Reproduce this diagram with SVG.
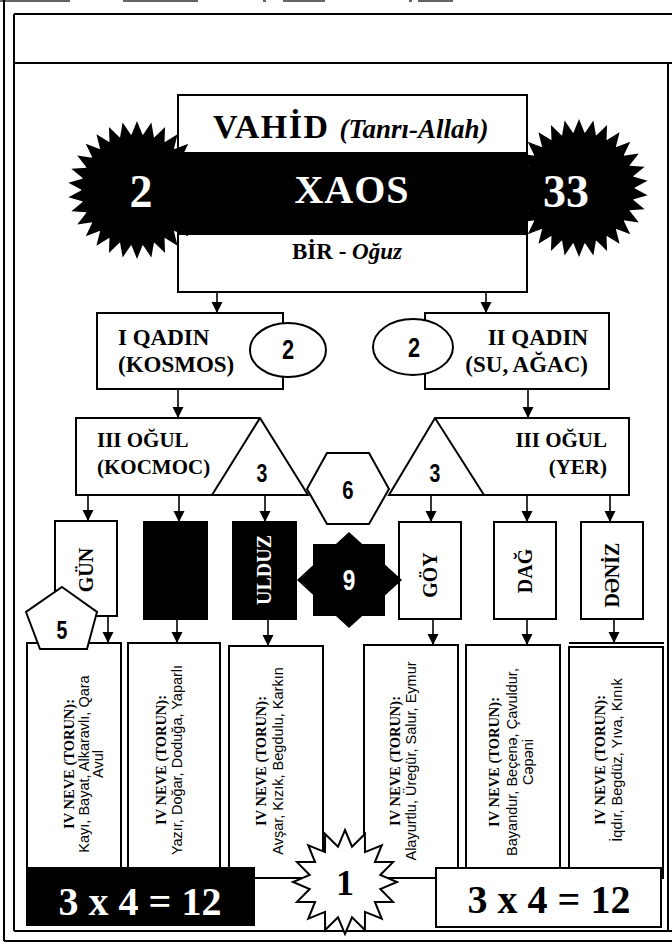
<svg xmlns="http://www.w3.org/2000/svg" width="672" height="944" viewBox="0 0 672 944">
<style>
.s{font-family:'Liberation Serif','Times New Roman',serif;font-weight:bold}
.w{fill:#fff}
.bx{fill:#fff;stroke:#000;stroke-width:2}
.bk{fill:#000;stroke:#000;stroke-width:2}
.fr{stroke:#000;stroke-width:2;fill:none}
.frag{stroke:#666;stroke-width:2;fill:none}
.n{font-family:'Liberation Sans',Arial,sans-serif;font-weight:bold;text-anchor:middle}
.tb{font-family:'Liberation Serif','Times New Roman',serif;font-weight:bold;font-size:14.5px;text-anchor:middle}
.tr{font-family:'Liberation Sans',Arial,sans-serif;font-size:14.5px;text-anchor:middle}
.rt{font-size:20px;text-anchor:middle}
.ar{stroke:#000;stroke-width:1.6;fill:none;marker-end:url(#ah)}
</style>
<defs>
<marker id="ah" markerUnits="userSpaceOnUse" markerWidth="12" markerHeight="12" refX="11" refY="5.5" orient="auto">
<path d="M0,0 L11,5.5 L0,11 Z" fill="#000"/>
</marker>
<path id="spk" d="M-5.75,-54.7 L0,-69 L5.75,-54.7 Z"/>
<g id="burst">
<circle r="55.5"/>
<use href="#spk"/><use href="#spk" transform="rotate(12)"/><use href="#spk" transform="rotate(24)"/><use href="#spk" transform="rotate(36)"/><use href="#spk" transform="rotate(48)"/><use href="#spk" transform="rotate(60)"/><use href="#spk" transform="rotate(72)"/><use href="#spk" transform="rotate(84)"/><use href="#spk" transform="rotate(96)"/><use href="#spk" transform="rotate(108)"/><use href="#spk" transform="rotate(120)"/><use href="#spk" transform="rotate(132)"/><use href="#spk" transform="rotate(144)"/><use href="#spk" transform="rotate(156)"/><use href="#spk" transform="rotate(168)"/><use href="#spk" transform="rotate(180)"/><use href="#spk" transform="rotate(192)"/><use href="#spk" transform="rotate(204)"/><use href="#spk" transform="rotate(216)"/><use href="#spk" transform="rotate(228)"/><use href="#spk" transform="rotate(240)"/><use href="#spk" transform="rotate(252)"/><use href="#spk" transform="rotate(264)"/><use href="#spk" transform="rotate(276)"/><use href="#spk" transform="rotate(288)"/><use href="#spk" transform="rotate(300)"/><use href="#spk" transform="rotate(312)"/><use href="#spk" transform="rotate(324)"/><use href="#spk" transform="rotate(336)"/><use href="#spk" transform="rotate(348)"/>
</g>
</defs>
<rect width="672" height="944" fill="#fff"/>

<g id="frame">
<line class="frag" x1="0" y1="1" x2="70" y2="1"/>
<line class="frag" x1="123" y1="1" x2="198" y2="1"/>
<line class="frag" x1="263" y1="1" x2="266" y2="1"/>
<line class="frag" x1="283" y1="1" x2="325" y2="1"/>
<line class="frag" x1="409" y1="1" x2="412" y2="1"/>
<line class="frag" x1="418" y1="1" x2="453" y2="1"/>
<line class="fr" x1="4" y1="0" x2="4" y2="941"/>
<line class="fr" x1="4" y1="941" x2="672" y2="941"/>
<line class="fr" x1="14" y1="14" x2="672" y2="14"/>
<line class="fr" x1="14" y1="63" x2="672" y2="63"/>
<line class="fr" x1="14" y1="14" x2="14" y2="931"/>
<line class="fr" x1="668" y1="63" x2="668" y2="931"/>
<line class="fr" x1="14" y1="931" x2="672" y2="931"/>
</g>

<g id="vahid">
<rect class="bx" x="178" y="95" width="349" height="197"/>
<rect x="178" y="152" width="349" height="83" fill="#000"/>
<use href="#burst" transform="translate(137,190)"/>
<use href="#burst" transform="translate(579,188)"/>
<text class="s" x="213" y="138" font-size="34" letter-spacing="1.5">VAHİD <tspan font-style="italic" font-size="27" letter-spacing="0">(Tanrı-Allah)</tspan></text>
<text class="s w" x="352" y="203" font-size="40" text-anchor="middle" letter-spacing="1">XAOS</text>
<text class="s" x="347" y="259" font-size="23" text-anchor="middle">BİR - <tspan font-style="italic">Oğuz</tspan></text>
<text class="s w" x="141" y="207" font-size="46" text-anchor="middle">2</text>
<text class="s w" x="566" y="207" font-size="46" text-anchor="middle">33</text>
</g>

<g id="qadin1">
<rect class="bx" x="97" y="313" width="186" height="76"/>
<text class="s" x="118" y="345" font-size="23">I QADIN</text>
<text class="s" x="118" y="372" font-size="23">(KOSMOS)</text>
</g>
<g id="ell1">
<ellipse class="bx" cx="288" cy="350" rx="38" ry="27"/>
<text class="n" font-size="28" transform="translate(288,359) scale(0.78,1)">2</text>
</g>
<g id="qadin2">
<rect class="bx" x="425" y="313" width="184" height="76"/>
<text class="s" x="588" y="345" font-size="23" text-anchor="end">II QADIN</text>
<text class="s" x="588" y="372" font-size="23" text-anchor="end">(SU, AĞAC)</text>
</g>
<g id="ell2">
<ellipse class="bx" cx="413" cy="347" rx="40" ry="28"/>
<text class="n" font-size="28" transform="translate(414,357) scale(0.78,1)">2</text>
</g>

<g id="ogul1">
<path class="bx" d="M76,418 L260,418 L308,495 L76,495 Z"/>
<path class="fr" d="M260,418 L212,495"/>
<text class="s" x="97" y="447" font-size="21">III OĞUL</text>
<text class="s" x="97" y="474" font-size="21">(KOCMOC)</text>
<text class="n" font-size="25" transform="translate(262,482) scale(0.78,1)">3</text>
</g>
<g id="ogul2">
<path class="bx" d="M435,418 L629,418 L629,495 L389,495 Z"/>
<path class="fr" d="M435,418 L484,495"/>
<text class="s" x="607" y="447" font-size="21" text-anchor="end">III OĞUL</text>
<text class="s" x="607" y="474" font-size="21" text-anchor="end">(YER)</text>
<text class="n" font-size="25" transform="translate(435,482) scale(0.78,1)">3</text>
</g>
<g id="hex6">
<polygon class="bx" points="307,489 327,453 369,453 389,489 369,524 327,524"/>
<text class="n" font-size="26" transform="translate(348,499) scale(0.78,1)">6</text>
</g>

<g id="gun">
<rect class="bx" x="55" y="521" width="62" height="95"/>
<text class="s rt" transform="translate(86,570) rotate(-90)" y="7">GÜN</text>
</g>
<g id="black2">
<rect class="bk" x="144" y="522" width="63" height="97"/>
</g>
<g id="ulduz">
<rect class="bk" x="233" y="522" width="63" height="97"/>
<text class="s rt w" transform="translate(264,570) rotate(-90)" y="7">ULDUZ</text>
</g>
<g id="goy">
<rect class="bx" x="399" y="522" width="62" height="97"/>
<text class="s rt" transform="translate(430,575) rotate(-90)" y="7">GÖY</text>
</g>
<g id="dag">
<rect class="bx" x="494" y="522" width="62" height="97"/>
<text class="s rt" transform="translate(525,571) rotate(-90)" y="7">DAĞ</text>
</g>
<g id="deniz">
<rect class="bx" x="581" y="522" width="62" height="97"/>
<text class="s rt" transform="translate(612,575) rotate(-90)" y="7">DƏNİZ</text>
</g>
<g id="star9">
<rect x="313" y="544" width="72" height="72" fill="#000"/>
<polygon points="349,532 402,580 349,628 297,580" fill="#000"/>
<text class="n w" font-size="29" transform="translate(349,590) scale(0.78,1)">9</text>
</g>

<g id="neve1">
<rect class="bx" x="27" y="643" width="94" height="235"/>
<text class="tb" transform="translate(74,764) rotate(-90)">IV NEVE (TORUN):</text>
<text class="tr" transform="translate(89,764) rotate(-90)">Kayı, Bayat, Alkaravlı, Qara</text>
<text class="tr" transform="translate(103,764) rotate(-90)">Avul</text>
</g>
<g id="neve2">
<rect class="bx" x="128" y="643" width="92" height="235"/>
<text class="tb" transform="translate(166,760) rotate(-90)">IV NEVE (TORUN):</text>
<text class="tr" transform="translate(182,760) rotate(-90)">Yazır, Doğar, Doduğa, Yaparlı</text>
</g>
<g id="neve3">
<rect class="bx" x="229" y="646" width="94" height="232"/>
<text class="tb" transform="translate(266,761) rotate(-90)">IV NEVE (TORUN):</text>
<text class="tr" transform="translate(283,761) rotate(-90)">Avşar, Kızık, Begdulu, Karkın</text>
</g>
<g id="neve4">
<rect class="bx" x="364" y="645" width="94" height="233"/>
<text class="tb" transform="translate(400,761) rotate(-90)">IV NEVE (TORUN):</text>
<text class="tr" transform="translate(416,761) rotate(-90)">Alayurtlu, Üregür, Salur, Eymur</text>
</g>
<g id="neve5">
<rect class="bx" x="466" y="645" width="94" height="233"/>
<text class="tb" transform="translate(499,762) rotate(-90)">IV NEVE (TORUN):</text>
<text class="tr" transform="translate(517,762) rotate(-90)">Bayandur, Beçenə, Çavuldur,</text>
<text class="tr" transform="translate(533,762) rotate(-90)">Cəpəni</text>
</g>
<g id="neve6">
<line class="fr" x1="569" y1="643" x2="664" y2="643"/>
<rect class="bx" x="569" y="647" width="94" height="231"/>
<text class="tb" transform="translate(605,760) rotate(-90)">IV NEVE (TORUN):</text>
<text class="tr" transform="translate(622,760) rotate(-90)">İqdır, Begdüz, Yıva, Kınık</text>
</g>

<g id="pent5">
<polygon class="bx" points="62,587 97,612 87,649 40,649 26,612"/>
<text class="n" font-size="25" transform="translate(62,639) scale(0.78,1)">5</text>
</g>

<g id="sum1">
<rect class="bk" x="27" y="868" width="227" height="57"/>
<text class="s w" x="140" y="915" font-size="40" text-anchor="middle">3 x 4 = 12</text>
</g>
<g id="sum2">
<rect class="bx" x="436" y="868" width="225" height="59"/>
<text class="s" x="549" y="913" font-size="40" text-anchor="middle">3 x 4 = 12</text>
</g>

<g id="connectors">
<line class="ar" x1="217" y1="292" x2="217" y2="313"/>
<line class="ar" x1="486" y1="292" x2="486" y2="313"/>
<line class="ar" x1="178" y1="389" x2="178" y2="418"/>
<line class="ar" x1="528" y1="389" x2="528" y2="418"/>
<line class="ar" x1="88" y1="495" x2="88" y2="521"/>
<line class="ar" x1="179" y1="495" x2="179" y2="522"/>
<line class="ar" x1="265" y1="495" x2="265" y2="522"/>
<line class="ar" x1="431" y1="495" x2="431" y2="522"/>
<line class="ar" x1="527" y1="495" x2="527" y2="522"/>
<line class="ar" x1="610" y1="495" x2="610" y2="522"/>
<line class="ar" x1="108" y1="616" x2="108" y2="643"/>
<line class="ar" x1="177" y1="619" x2="177" y2="643"/>
<line class="ar" x1="268" y1="619" x2="268" y2="646"/>
<line class="ar" x1="433" y1="619" x2="433" y2="645"/>
<line class="ar" x1="527" y1="619" x2="527" y2="645"/>
<line class="ar" x1="614" y1="619" x2="614" y2="643"/>
</g>

<g id="star1">
<polygon class="bx" transform="translate(345,882)" points="0,-52 7.02,-35.31 19.9,-48.04 20,-29.93 36.77,-36.77 29.93,-20 48.04,-19.9 35.31,-7.02 52,0 35.31,7.02 48.04,19.9 29.93,20 36.77,36.77 20,29.93 19.9,48.04 7.02,35.31 0,52 -7.02,35.31 -19.9,48.04 -20,29.93 -36.77,36.77 -29.93,20 -48.04,19.9 -35.31,7.02 -52,0 -35.31,-7.02 -48.04,-19.9 -29.93,-20 -36.77,-36.77 -20,-29.93 -19.9,-48.04 -7.02,-35.31"/>
<text class="s" x="345" y="895" font-size="36" text-anchor="middle">1</text>
</g>
</svg>
